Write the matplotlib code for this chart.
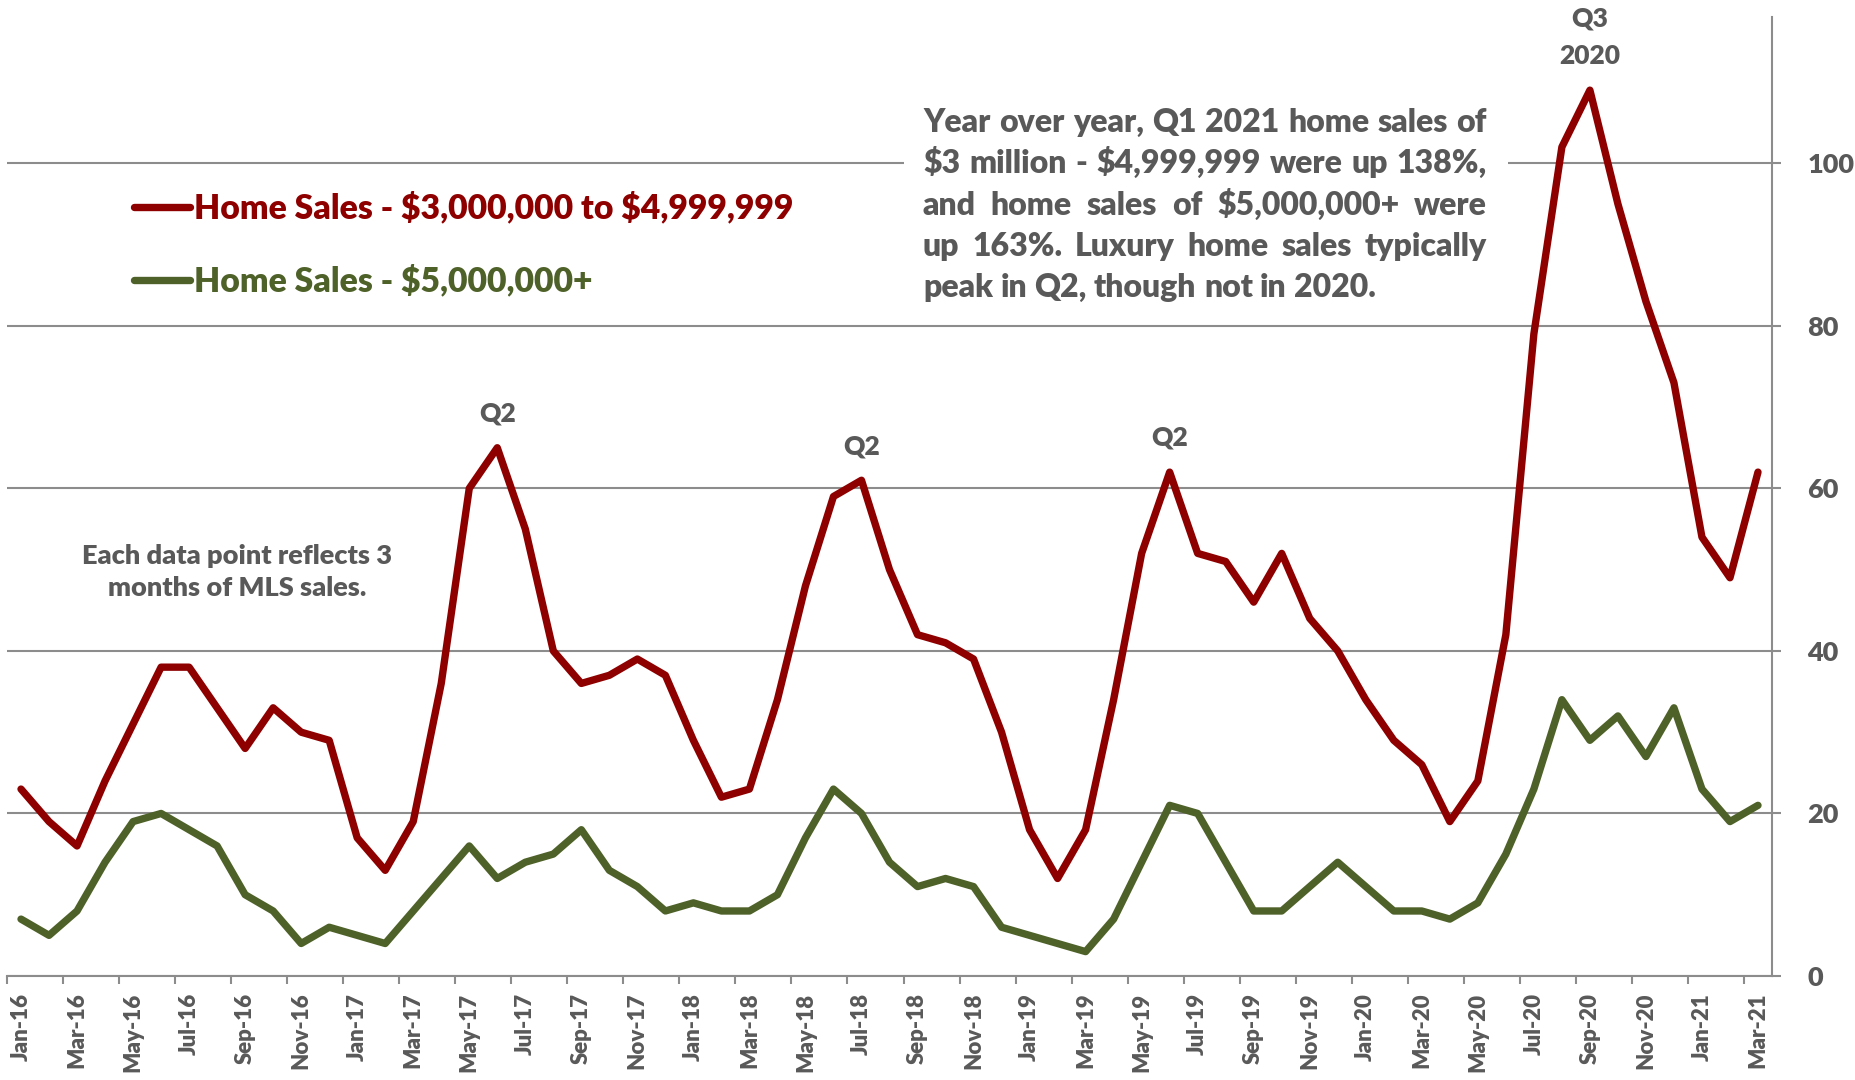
import matplotlib
matplotlib.use("Agg")
import matplotlib.pyplot as plt
import pandas as pd
from matplotlib.patches import Rectangle

# categories: one point per month, Jan-16 .. Mar-21
months = pd.date_range("2016-01-01", "2021-03-01", freq="MS").strftime("%b-%y").tolist()

sales_3m_to_5m = [
    23, 19, 16, 24, 31, 38, 38, 33, 28, 33, 30, 29,    # 2016
    17, 13, 19, 36, 60, 65, 55, 40, 36, 37, 39, 37,    # 2017
    29, 22, 23, 34, 48, 59, 61, 50, 42, 41, 39, 30,    # 2018
    18, 12, 18, 34, 52, 62, 52, 51, 46, 52, 44, 40,    # 2019
    34, 29, 26, 19, 24, 42, 79, 102, 109, 95, 83, 73,  # 2020
    54, 49, 62,                                        # 2021
]
sales_5m_plus = [
    7, 5, 8, 14, 19, 20, 18, 16, 10, 8, 4, 6,
    5, 4, 8, 12, 16, 12, 14, 15, 18, 13, 11, 8,
    9, 8, 8, 10, 17, 23, 20, 14, 11, 12, 11, 6,
    5, 4, 3, 7, 14, 21, 20, 14, 8, 8, 11, 14,
    11, 8, 8, 7, 9, 15, 23, 34, 29, 32, 27, 33,
    23, 19, 21,
]
peak_months = ["Jun-17", "Jul-18", "Jun-19", "Sep-20"]
peak_labels = ["Q2", "Q2", "Q2", "Q3\n2020"]

note_lines = [
    "Year over year, Q1 2021 home sales of",
    "$3 million - $4,999,999 were up 138%,",
    "and home sales of $5,000,000+ were",
    "up 163%. Luxury home sales typically",
    "peak in Q2, though not in 2020.",
]

plt.rcParams['font.family'] = ['Lato', 'DejaVu Sans']
plt.rcParams['font.weight'] = 'heavy'
WT = 'heavy'

W, H = 1856, 1080
RED = '#8E0000'
GREEN = '#4E6128'
GRAY = '#595959'
GRID = '#8C8C8C'

fig = plt.figure(figsize=(W / 100, H / 100), dpi=100)
ax = fig.add_axes([7 / W, 1 - 976 / H, (1772 - 7) / W, (976 - 17) / H])

x = list(range(len(months)))
ax.plot(x, sales_3m_to_5m, color=RED, lw=5.3, solid_capstyle='round',
        solid_joinstyle='round', label=r"Home Sales - \$3,000,000 to \$4,999,999", zorder=3)
ax.plot(x, sales_5m_plus, color=GREEN, lw=5.3, solid_capstyle='round',
        solid_joinstyle='round', label=r"Home Sales - \$5,000,000+", zorder=3)

# peak labels
for m, lab in zip(peak_months, peak_labels):
    i = months.index(m)
    ax.annotate(lab, (i, sales_3m_to_5m[i]), xytext=(0, 16), textcoords='offset points',
                ha='center', va='bottom', fontsize=19, color=GRAY, fontweight=WT,
                linespacing=1.65)

ax.set_xlim(-0.5, len(months) - 0.5)
ax.set_ylim(0, 118)

ax.set_xticks(x[::2])
ax.set_xticklabels(months[::2], rotation=90, fontsize=16, color=GRAY, fontweight=WT)
ax.set_xticks([i - 0.5 for i in x[::2]], minor=True)
ax.tick_params(axis='x', which='major', length=0, pad=12)
ax.tick_params(axis='x', which='minor', length=6, width=1.5, color=GRID, direction='out')

ax.yaxis.tick_right()
ax.set_yticks([0, 20, 40, 60, 80, 100])
ax.tick_params(axis='y', length=6.5, width=1.5, color=GRID, pad=19, labelsize=19.5,
               labelcolor=GRAY)
for t in ax.get_yticklabels():
    t.set_fontweight(WT)

ax.set_axisbelow(True)
ax.yaxis.grid(True, color=GRID, lw=1.5)
for s in ['left', 'top']:
    ax.spines[s].set_visible(False)
for s in ['bottom', 'right']:
    ax.spines[s].set_color(GRID)
    ax.spines[s].set_linewidth(1.5)

# white box behind the note (hides the gridline)
ax.add_patch(Rectangle((904 / W, 1 - 305 / H), 604 / W, 210 / H, transform=fig.transFigure,
                       facecolor='white', edgecolor='none', zorder=1))

leg = ax.legend(loc='upper left', bbox_to_anchor=(134 / W, 1 - 192 / H),
                bbox_transform=fig.transFigure, frameon=False, fontsize=24.3,
                labelcolor='linecolor', handlelength=1.65, handletextpad=0.12,
                borderpad=0, borderaxespad=0, labelspacing=1.2)
for t in leg.get_texts():
    t.set_fontweight(WT)

fig.text(237 / W, 1 - 572 / H, "Each data point reflects 3\nmonths of MLS sales.",
         ha='center', va='center', fontsize=19.5, color=GRAY, fontweight=WT,
         linespacing=1.4)

# justified note text
NOTE_FS = 23
fig.canvas.draw()
r = fig.canvas.get_renderer()
x0, x1 = 923, 1487
baselines = [132, 173, 215, 256, 297]
probe_a = fig.text(0, 0, "x x", fontsize=NOTE_FS, fontweight=WT)
probe_b = fig.text(0, 0, "xx", fontsize=NOTE_FS, fontweight=WT)
space = probe_a.get_window_extent(r).width - probe_b.get_window_extent(r).width
probe_a.remove()
probe_b.remove()
for k, (line, yb) in enumerate(zip(note_lines, baselines)):
    words = line.split()
    arts = [fig.text(0, 1 - yb / H, w, fontsize=NOTE_FS, color=GRAY, fontweight=WT,
                     va='baseline', ha='left') for w in words]
    widths = [a.get_window_extent(r).width for a in arts]
    if k < len(note_lines) - 1:
        gap = (x1 - x0 - sum(widths)) / (len(words) - 1)
    else:
        gap = space
    pos = x0
    for a, w in zip(arts, widths):
        a.set_x(pos / W)
        pos += w + gap

fig.savefig("out.png", dpi=100)
